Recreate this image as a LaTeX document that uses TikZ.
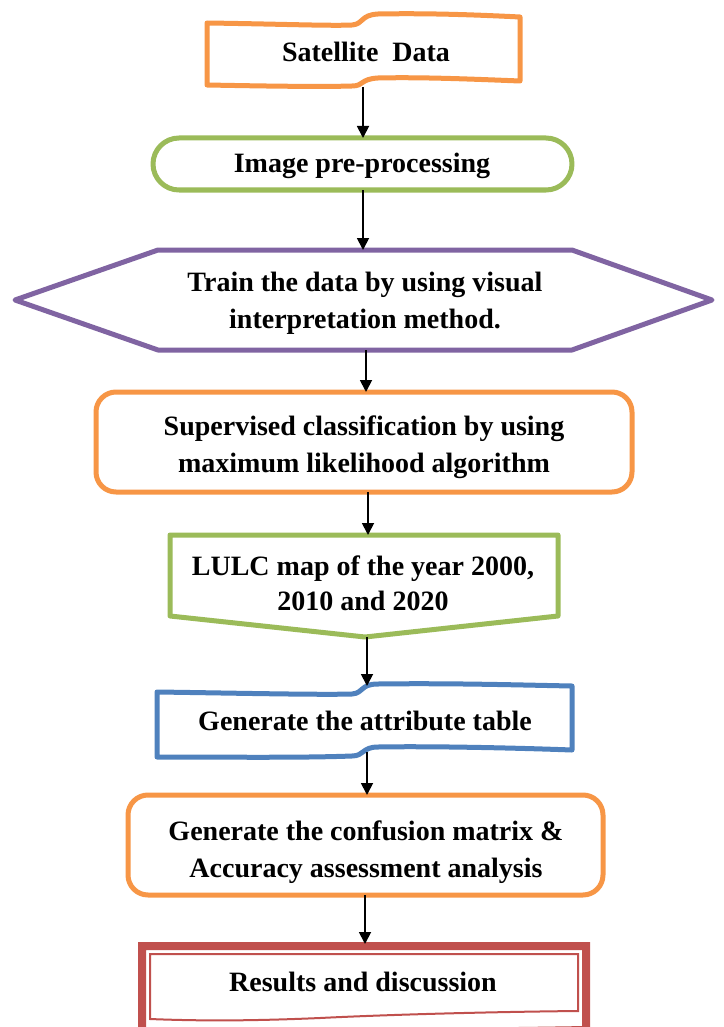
\documentclass[tikz,border=0pt]{standalone}
\usepackage{fontspec}
\setmainfont{Liberation Serif}
\usetikzlibrary{arrows.meta}
\definecolor{orn}{HTML}{F79646}
\definecolor{grn}{HTML}{9BBB59}
\definecolor{pur}{HTML}{8064A2}
\definecolor{blu}{HTML}{4F81BD}
\definecolor{red2}{HTML}{C0504D}
\tikzset{
  shp/.style={line width=5pt, line join=round, fill=white},
  lbl/.style={font=\bfseries\fontsize{28}{37}\selectfont, align=center, inner sep=0pt},
  arr/.style={line width=1.8pt, -{Triangle[length=12pt,width=12pt]}}
}
\begin{document}
\begin{tikzpicture}[x=1pt,y=-1pt]
\useasboundingbox (0,0) rectangle (723,1027);
\clip (0,0) rectangle (723,1027);
% 1 satellite data (punched tape)
\draw[shp, draw=orn] (207,23) .. controls (280,24) and (330,26) .. (352,25)
  .. controls (364,24) and (360,15) .. (378,14) .. controls (430,13) and (480,15) .. (520,17)
  -- (520,81) .. controls (470,79) and (420,77) .. (378,78)
  .. controls (360,79) and (364,86) .. (352,86) .. controls (320,87) and (260,86) .. (207,85) -- cycle;
\node[lbl] (sat) at (366,52) {Satellite\ \ Data};
\coordinate (satB) at (363,87);
% 2 image pre-processing
\draw[shp, draw=grn, rounded corners=26pt] (153,138) rectangle (572,190);
\node[lbl] (pre) at (362,166) {Image pre-processing};
\coordinate (preT) at (363,138);
\coordinate (preB) at (363,190);
% 3 hexagon
\draw[shp, draw=pur] (15,300) -- (158,250) -- (572,250) -- (712,300) -- (572,350) -- (158,350) -- cycle;
\node[lbl] (train) at (365,303) {Train the data by using visual\\interpretation method.};
\coordinate (trainT) at (363,250);
\coordinate (trainB) at (366,350);
% 4 supervised
\draw[shp, draw=orn, rounded corners=20pt] (96,392) rectangle (632,492);
\node[lbl] (sup) at (364,447) {Supervised classification by using\\maximum likelihood algorithm};
\coordinate (supT) at (366,392);
\coordinate (supB) at (368,492);
% 5 LULC off-page connector
\draw[shp, draw=grn] (170,535) -- (558,535) -- (558,616) -- (365,637) -- (170,616) -- cycle;
\node[lbl, font=\bfseries\fontsize{28}{35}\selectfont] (lulc) at (363,583) {LULC map of the year 2000,\\2010 and 2020};
\coordinate (lulcT) at (368,535);
\coordinate (lulcB) at (367,637);
% 6 attribute table (punched tape)
\draw[shp, draw=blu] (157,692) .. controls (230,693) and (320,695) .. (352,694)
  .. controls (364,693) and (360,684) .. (378,684) .. controls (450,683) and (520,685) .. (572,686)
  -- (572,750) .. controls (520,748) and (430,746) .. (378,747)
  .. controls (362,747) and (364,756) .. (352,756) .. controls (300,758) and (220,757) .. (157,757) -- cycle;
\node[lbl] (attr) at (365,721) {Generate the attribute table};
\coordinate (attrT) at (367,686);
\coordinate (attrB) at (367,752);
% 7 confusion matrix
\draw[shp, draw=orn, rounded corners=20pt] (128,795) rectangle (603,895);
\node[lbl] (conf) at (366,852) {Generate the confusion matrix \&\\Accuracy assessment analysis};
\coordinate (confT) at (367,795);
\coordinate (confB) at (365,895);
% 8 results (document, double line)
\draw[draw=red2, line width=8pt, fill=white] (142,946) -- (586,946) -- (586,1030)
  .. controls (470,1032) and (300,1033) .. (142,1034) -- cycle;
\draw[draw=red2, line width=2pt] (150,954) -- (578,954) -- (578,1011)
  .. controls (480,1012) and (380,1015) .. (320,1018) .. controls (250,1021) and (200,1021) .. (150,1019) -- cycle;
\node[lbl] (res) at (363,982) {Results and discussion};
\coordinate (resT) at (365,944);
% connectors
\draw[arr] (satB) -- (preT);
\draw[arr] (preB) -- (trainT);
\draw[arr] (trainB) -- (supT);
\draw[arr] (supB) -- (lulcT);
\draw[arr] (lulcB) -- (attrT);
\draw[arr] (attrB) -- (confT);
\draw[arr] (confB) -- (resT);
\end{tikzpicture}
\end{document}
